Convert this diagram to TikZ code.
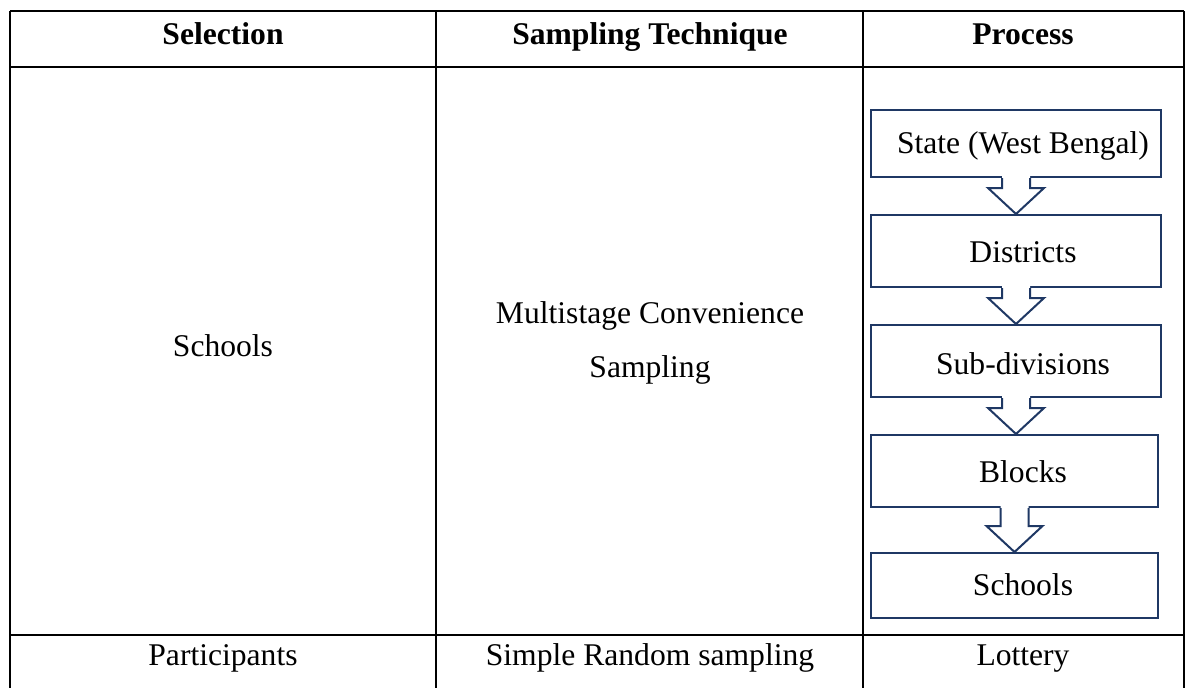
\documentclass[tikz,border=0pt]{standalone}
\usepackage{fontspec}
\setmainfont{Liberation Serif}
\usetikzlibrary{calc}
\definecolor{navy}{RGB}{31,56,100}
\tikzset{
  grid/.style={line width=2.4pt, black},
  cell/.style={anchor=base, inner sep=0pt, font=\fontsize{31.6}{36}\selectfont},
  head/.style={cell, font=\fontsize{31.6}{36}\selectfont\bfseries},
  pbox/.style={draw=navy, line width=2pt, fill=white, inner sep=0pt},
  pline/.style={draw=navy, line width=2pt, line join=miter},
}
% block arrow hanging from the bottom of one box to the top of the next
\newcommand\flowarrow[2]{%
  \fill[white] let \p1=(#1.south), \p2=(#2.north) in
    (\x1-14pt,\y1+2pt) -- (\x1-14pt,\y2+26pt) -- (\x1-28pt,\y2+26pt) --
    (\x1,\y2) -- (\x1+28pt,\y2+26pt) -- (\x1+14pt,\y2+26pt) --
    (\x1+14pt,\y1+2pt) -- cycle;
  \draw[pline] let \p1=(#1.south), \p2=(#2.north) in
    (\x1-14pt,\y1) -- (\x1-14pt,\y2+26pt) -- (\x1-28pt,\y2+26pt) --
    (\x1,\y2) -- (\x1+28pt,\y2+26pt) -- (\x1+14pt,\y2+26pt) --
    (\x1+14pt,\y1);
}
\begin{document}
\begin{tikzpicture}[x=1pt, y=-1pt]
\useasboundingbox (0,0) rectangle (1186,688);
\fill[white] (0,0) rectangle (1186,688);

% table rules
\draw[grid] (10,11) -- (1184,11);
\draw[grid] (10,67) -- (1184,67);
\draw[grid] (10,635) -- (1184,635);
\draw[grid] (10,11) -- (10,688);
\draw[grid] (436,11) -- (436,688);
\draw[grid] (863,11) -- (863,688);
\draw[grid] (1184,11) -- (1184,688);

% header row
\node[head] (h1) at (223,44) {Selection};
\node[head] (h2) at (650,44) {Sampling Technique};
\node[head] (h3) at (1023,44) {Process};

% middle row
\node[cell] (sel1) at (223,356) {Schools};
\node[cell] (tech1a) at (650,323) {Multistage Convenience};
\node[cell] (tech1b) at (650,377) {Sampling};

% process boxes
\node[pbox, minimum width=290pt, minimum height=67pt] (b1) at (1016,143.5) {};
\node[pbox, minimum width=290pt, minimum height=72pt] (b2) at (1016,251) {};
\node[pbox, minimum width=290pt, minimum height=72pt] (b3) at (1016,361) {};
\node[pbox, minimum width=287pt, minimum height=72pt] (b4) at (1014.5,471) {};
\node[pbox, minimum width=287pt, minimum height=65pt] (b5) at (1014.5,585.5) {};

\flowarrow{b1}{b2}
\flowarrow{b2}{b3}
\flowarrow{b3}{b4}
\flowarrow{b4}{b5}

\node[cell] (t1) at (1023,153) {State (West Bengal)};
\node[cell] (t2) at (1023,262) {Districts};
\node[cell] (t3) at (1023,374) {Sub-divisions};
\node[cell] (t4) at (1023,482) {Blocks};
\node[cell] (t5) at (1023,595) {Schools};

% last row
\node[cell] (sel2) at (223,665) {Participants};
\node[cell] (tech2) at (650,665) {Simple Random sampling};
\node[cell] (proc2) at (1023,665) {Lottery};
\end{tikzpicture}
\end{document}
